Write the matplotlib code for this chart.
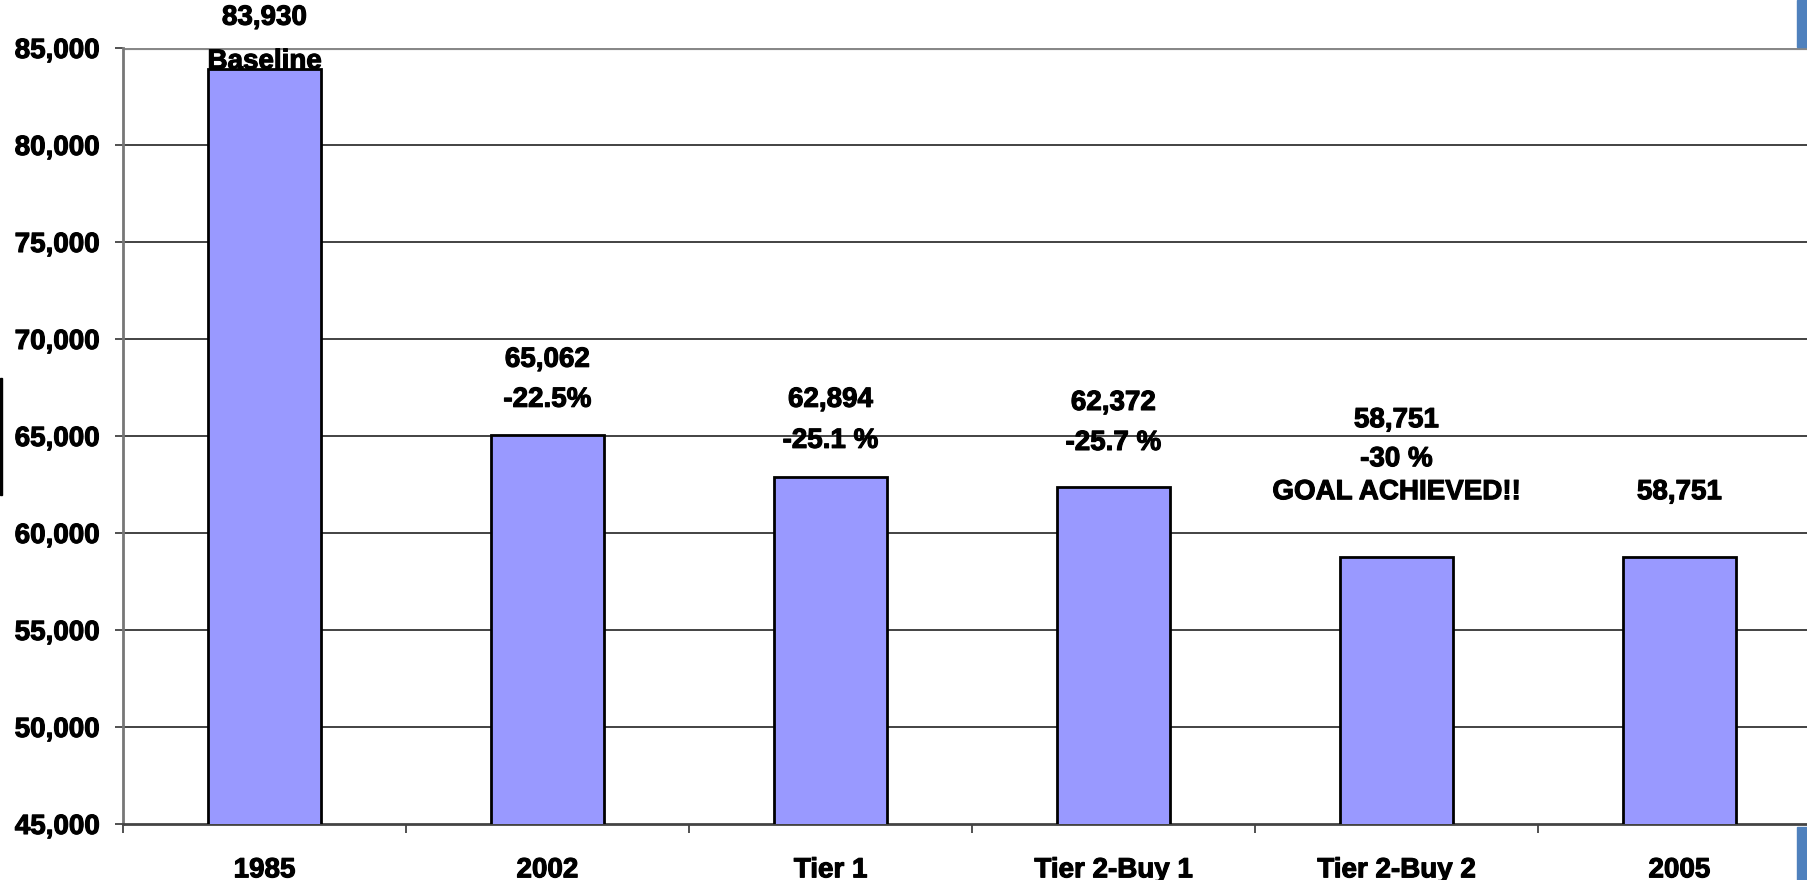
import matplotlib
matplotlib.use('Agg')
import matplotlib.pyplot as plt
import matplotlib.patheffects as pe
from matplotlib.patches import Rectangle
import numpy as np

# ====== DATOS ======
categorias = ['1985', '2002', 'Tier 1', 'Tier 2-Buy 1', 'Tier 2-Buy 2', '2005']
valores = [83930, 65062, 62894, 62372, 58751, 58751]
etiquetas = [
    ['83,930', 'Baseline'],
    ['65,062', '-22.5%'],
    ['62,894', '-25.1 %'],
    ['62,372', '-25.7 %'],
    ['58,751', '-30 %', 'GOAL ACHIEVED!!'],
    ['58,751'],
]
y_ticks = [45000, 50000, 55000, 60000, 65000, 70000, 75000, 80000, 85000]

# desplazamientos (pixeles sobre la barra) de cada linea de texto
offsets = [
    [51, 7],
    [75, 35],
    [77, 36],
    [84, 44],
    [137, 98, 65],
    [65],
]

plt.rcParams['font.family'] = ['Liberation Sans', 'DejaVu Sans']
plt.rcParams['font.weight'] = 'bold'

# trazo extra para que el texto se vea tan grueso como en la captura
grueso = [pe.withStroke(linewidth=0.8, foreground='black')]

W, H = 1807, 880
fig = plt.figure(figsize=(W / 100, H / 100), dpi=100)
fig.patch.set_facecolor('white')

# ejes en pixeles: izquierda 123, derecha 1821 (sale de la imagen), arriba 48, abajo 824
ax = fig.add_axes([123 / W, 1 - 824 / H, (1821 - 123) / W, (824 - 48) / H])

x = np.arange(len(categorias))
ax.bar(x, valores, width=0.40, color='#9999FF', edgecolor='black', linewidth=2, zorder=3)

ax.set_xlim(-0.5, len(categorias) - 0.5)
ax.set_ylim(45000, 85000)

# ====== GRID ======
ax.set_yticks(y_ticks)
ax.set_yticklabels([f'{v:,}' for v in y_ticks], fontsize=20, fontweight='bold')
for v in y_ticks[1:-1]:
    ax.axhline(v, color='#222222', linewidth=1.2, zorder=1)
ax.axhline(85000, color='#888888', linewidth=3, zorder=1)

# ====== EJE X ======
ax.set_xticks(x)
ax.set_xticklabels(categorias, fontsize=20, fontweight='bold')
ax.set_xticks(np.arange(-0.5, len(categorias), 1.0), minor=True)
ax.tick_params(axis='x', which='major', length=0, pad=24)
ax.tick_params(axis='x', which='minor', length=6.5, width=1.2, direction='out', color='#333333')
ax.tick_params(axis='y', length=5.8, width=1.2, pad=10.8, color='#333333')

for lbl in ax.get_xticklabels() + ax.get_yticklabels():
    lbl.set_path_effects(grueso)

for s in ['top', 'right']:
    ax.spines[s].set_visible(False)
ax.spines['left'].set_color('#777777')
ax.spines['left'].set_linewidth(2)
ax.spines['bottom'].set_color('#444444')
ax.spines['bottom'].set_linewidth(2)

# ====== ETIQUETAS ======
for i, (lineas, offs) in enumerate(zip(etiquetas, offsets)):
    for texto, off in zip(lineas, offs):
        ax.annotate(texto, xy=(x[i], valores[i]), xytext=(0, off),
                    textcoords='offset pixels', ha='center', va='center',
                    fontsize=20, fontweight='bold', color='black',
                    zorder=5, annotation_clip=False, path_effects=grueso)

# ====== DETALLES DE LA DIAPOSITIVA ======
fig.add_artist(Rectangle((1797 / W, 1 - 47 / H), 10 / W, 47 / H,
                         transform=fig.transFigure, color='#4F81BD', zorder=10))
fig.add_artist(Rectangle((1797 / W, 0), 10 / W, (880 - 827) / H,
                         transform=fig.transFigure, color='#4F81BD', zorder=10))
fig.add_artist(Rectangle((0, 1 - 495 / H), 2 / W, (495 - 378) / H,
                         transform=fig.transFigure, color='black', zorder=10))

fig.savefig('out.png', dpi=100)
